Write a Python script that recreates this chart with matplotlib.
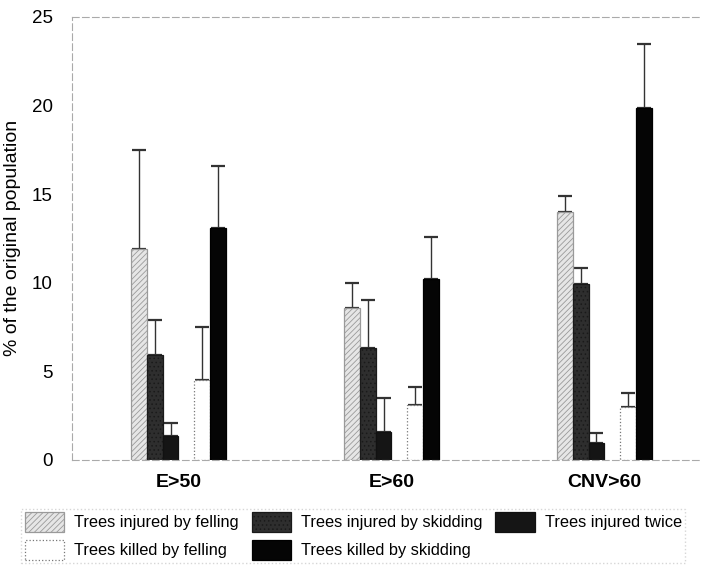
import matplotlib
matplotlib.use("Agg")
import matplotlib.pyplot as plt
import numpy as np

categories = ["E>50", "E>60", "CNV>60"]
series = ["Trees injured by felling", "Trees injured by skidding", "Trees injured twice",
          "Trees killed by felling", "Trees killed by skidding"]
inj_felling = [11.9, 8.6, 14.0]
inj_felling_err = [5.6, 1.4, 0.9]
inj_skidding = [5.9, 6.3, 9.95]
inj_skidding_err = [2.0, 2.7, 0.9]
inj_twice = [1.35, 1.6, 0.95]
inj_twice_err = [0.75, 1.9, 0.55]
kill_felling = [4.5, 3.1, 3.0]
kill_felling_err = [3.0, 1.0, 0.75]
kill_skidding = [13.1, 10.2, 19.85]
kill_skidding_err = [3.5, 2.4, 3.65]

values = [inj_felling, inj_skidding, inj_twice, kill_felling, kill_skidding]
errors = [inj_felling_err, inj_skidding_err, inj_twice_err, kill_felling_err, kill_skidding_err]
offsets = [-2.5, -1.5, -0.5, 1.5, 2.5]
facecolors = ["#e6e6e6", "#2e2e2e", "#151515", "white", "#050505"]
hatches = ["//////", "....", None, None, None]
edgecolors = ["#9a9a9a", "#1a1a1a", "#111111", "#777777", "#000000"]

plt.rcParams['font.family'] = ['Liberation Sans', 'DejaVu Sans']
plt.rcParams['hatch.linewidth'] = 0.6

fig = plt.figure(figsize=(7.13, 5.65), dpi=100)
ax = fig.add_axes([0.101, 0.186, 0.881, 0.784])

x = np.arange(len(categories))
w = 0.074
handles = []
for i in range(5):
    plt.rcParams['hatch.color'] = edgecolors[i]
    b = ax.bar(x + offsets[i] * w, values[i], width=w, color=facecolors[i],
               edgecolor=edgecolors[i], hatch=hatches[i], linewidth=0.9,
               linestyle=":" if i == 3 else "-",
               label=series[i], zorder=2)
    ax.errorbar(x + offsets[i] * w, values[i],
                yerr=[np.zeros(3), errors[i]], fmt="none",
                ecolor="#333333", elinewidth=1.0, capsize=5, capthick=1.6, zorder=1)
    handles.append(b)

ax.set_xlim(-0.5, 2.45)
ax.set_ylim(0, 25)
ax.set_yticks([0, 5, 10, 15, 20, 25])
ax.set_xticks(x)
ax.set_xticklabels(categories, fontsize=14, fontweight="bold")
ax.tick_params(axis="y", length=0, labelsize=13.5, pad=14)
ax.tick_params(axis="x", length=0, pad=10)
ax.set_ylabel("% of the original population", fontsize=14)
ax.yaxis.set_label_coords(-0.081, 0.5)

ax.spines["right"].set_visible(False)
for s in ["left", "bottom", "top"]:
    ax.spines[s].set_color("#aaaaaa")
    ax.spines[s].set_linewidth(0.8)
    ax.spines[s].set_linestyle((0, (6, 3)))

order = [0, 3, 1, 4, 2]
leg = fig.legend([handles[k] for k in order], [series[k] for k in order],
                 loc="upper left", bbox_to_anchor=(0.03, 0.1),
                 ncol=3, fontsize=11.8, frameon=True,
                 handlelength=2.4, handleheight=1.5, borderaxespad=0.0,
                 labelspacing=0.5, columnspacing=0.8, handletextpad=0.6,
                 borderpad=0.2)
leg.get_frame().set_edgecolor("#cccccc")
leg.get_frame().set_linestyle(":")
leg.get_frame().set_boxstyle("square", pad=0.0)

fig.savefig("out.png", dpi=100)
